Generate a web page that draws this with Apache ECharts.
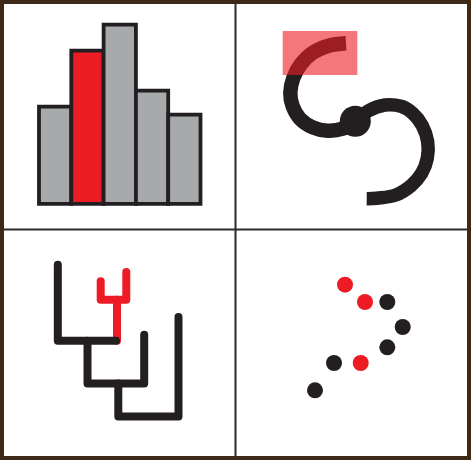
<!DOCTYPE html>
<html><head><meta charset="utf-8">
<script src="https://cdn.jsdelivr.net/npm/echarts@6/dist/echarts.min.js"></script>
<style>html,body{margin:0;padding:0;background:#fff}#c{width:471px;height:460px}</style>
</head><body><div id="c"></div>
<script>
// Panel 1: histogram
const barCategories = ['A', 'B', 'C', 'D', 'E'];
const barValues = [101, 157, 183, 117, 93];
const barHighlight = [false, true, false, false, false];

// Panel 2: S-curve with hub and highlight box (panel-local units, y downward)
const upperArc = [[110,43.3],[92.7,45.7],[76.7,52.7],[65,64],[57.3,78],[54.3,93],[56.7,106.3],[64,118.7],[76.7,127.3],[91.7,130.7],[106.7,128.7],[119.3,121.3]];
const lowerArc = [[119.3,121.3],[132.3,110.8],[149,105],[165,106.3],[176.7,113.3],[186.3,125.7],[191.7,141.7],[191.3,158.3],[185.7,173.3],[175,185.7],[159.7,195],[140.7,198.3],[130.7,198.7]];
const hubPoint = [[119.3,121.3]];
const highlightBox = [[46.7,31,121.3,75]];

// Panel 3: dendrogram branches
const treeBlack = [
  [[57.8,34.7],[57.8,110.8],[116,110.8]],
  [[87.5,110.8],[87.5,153.5],[144.2,153.5],[144.2,104.7]],
  [[118.3,153.5],[118.3,186.5],[178.5,186.5],[178.5,87]]
];
const treeRed = [
  [[117,110.8],[117,69.8]],
  [[100.7,51.3],[100.7,69.8],[126.3,69.8],[126.3,42]]
];

// Panel 4: scatter dots
const dotsRed = [[109,54.7],[129,72],[124.7,133]];
const dotsBlack = [[151.3,72],[166.7,97],[151.3,117.3],[98,133],[79,160.3]];

const INK = '#231f20', RED = '#ed1c24', GRAY = '#a7a9ac';

const chart = echarts.init(document.getElementById('c'), null, {renderer: 'canvas'});
const hiddenVal = (min, max, gi, inverse) => ({type: 'value', gridIndex: gi, min, max, show: false, inverse: !!inverse});

function curveSeries(points, width) {
  return {
    type: 'custom', xAxisIndex: 1, yAxisIndex: 1, data: [[points[0][0], points[0][1]]], z: 2,
    renderItem: (params, api) => ({
      type: 'polyline',
      shape: {points: points.map(p => api.coord(p)), smooth: 0.35},
      style: {stroke: INK, fill: null, lineWidth: width, lineCap: 'butt', lineJoin: 'round'}
    })
  };
}

chart.setOption({
  animation: false,
  grid: [
    {left: 39, top: 5.7, width: 161.5, height: 200, containLabel: false},
    {left: 236, top: 0, width: 235, height: 230, containLabel: false},
    {left: 0, top: 230, width: 235, height: 230, containLabel: false},
    {left: 236, top: 230, width: 235, height: 230, containLabel: false}
  ],
  xAxis: [
    {type: 'category', gridIndex: 0, data: barCategories, show: false},
    hiddenVal(0, 235, 1), hiddenVal(0, 235, 2), hiddenVal(0, 235, 3)
  ],
  yAxis: [
    hiddenVal(0, 200, 0),
    hiddenVal(0, 230, 1, true), hiddenVal(0, 230, 2, true), hiddenVal(0, 230, 3, true)
  ],
  series: [
    {
      type: 'bar', xAxisIndex: 0, yAxisIndex: 0, barWidth: 36.1, clip: false,
      data: barValues.map((v, i) => ({value: v, itemStyle: {color: barHighlight[i] ? RED : GRAY}})),
      itemStyle: {borderColor: INK, borderWidth: 3.8}
    },
    curveSeries(upperArc, 14.5),
    curveSeries(lowerArc, 13.5),
    {
      type: 'scatter', xAxisIndex: 1, yAxisIndex: 1, data: hubPoint, symbolSize: 31,
      itemStyle: {color: INK, opacity: 1}, z: 3
    },
    {
      type: 'custom', xAxisIndex: 1, yAxisIndex: 1, data: highlightBox, z: 10,
      renderItem: (params, api) => {
        const p0 = api.coord([api.value(0), api.value(1)]);
        const p1 = api.coord([api.value(2), api.value(3)]);
        return {type: 'rect', shape: {x: p0[0], y: p0[1], width: p1[0] - p0[0], height: p1[1] - p0[1]},
                style: {fill: 'rgba(237,28,36,0.6)'}};
      }
    },
    {
      type: 'lines', coordinateSystem: 'cartesian2d', xAxisIndex: 2, yAxisIndex: 2, polyline: true,
      data: treeRed.map(c => ({coords: c})),
      lineStyle: {color: RED, width: 8, opacity: 1, cap: 'round', join: 'round'}, z: 2
    },
    {
      type: 'lines', coordinateSystem: 'cartesian2d', xAxisIndex: 2, yAxisIndex: 2, polyline: true,
      data: treeBlack.map(c => ({coords: c})),
      lineStyle: {color: INK, width: 8, opacity: 1, cap: 'round', join: 'round'}, z: 3
    },
    {
      type: 'scatter', xAxisIndex: 3, yAxisIndex: 3, data: dotsRed, symbolSize: 16,
      itemStyle: {color: RED, opacity: 1}
    },
    {
      type: 'scatter', xAxisIndex: 3, yAxisIndex: 3, data: dotsBlack, symbolSize: 16,
      itemStyle: {color: INK, opacity: 1}
    }
  ],
  graphic: [
    {type: 'line', shape: {x1: 235.5, y1: 2, x2: 235.5, y2: 458}, style: {stroke: '#2b2b2b', lineWidth: 2}, z: 100},
    {type: 'line', shape: {x1: 2, y1: 229.5, x2: 469, y2: 229.5}, style: {stroke: '#2b2b2b', lineWidth: 2}, z: 100},
    {type: 'rect', shape: {x: 2, y: 2, width: 467, height: 456}, style: {fill: 'none', stroke: '#3d2916', lineWidth: 4}, z: 101}
  ]
});
</script></body></html>
